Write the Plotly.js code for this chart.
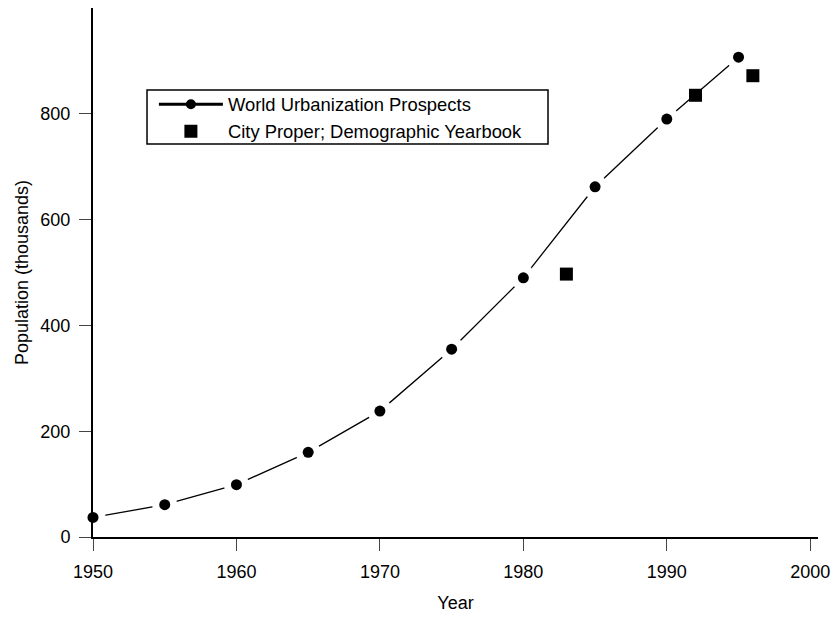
<!DOCTYPE html>
<html>
<head>
<meta charset="utf-8">
<script src="https://cdn.plot.ly/plotly-3.0.1.min.js"></script>
<style>html,body{margin:0;padding:0;background:#fff;}#chart{width:836px;height:618px;}</style>
</head>
<body>
<div id="chart"></div>
<script>
// World Urbanization Prospects estimates (thousands)
const wupYears = [1950, 1955, 1960, 1965, 1970, 1975, 1980, 1985, 1990, 1995];
const wupValues = [37, 61, 99, 160, 238, 355, 490, 662, 790, 907];
// City proper, Demographic Yearbook (thousands)
const dybYears = [1983, 1992, 1996];
const dybValues = [497, 835, 872];
const xTicks = [1950, 1960, 1970, 1980, 1990, 2000];
const yTicks = [0, 200, 400, 600, 800];

const FONT = "Liberation Sans, Arial, Helvetica, sans-serif";

const traces = [
  { // connecting line
    x: wupYears, y: wupValues, mode: 'lines', type: 'scatter',
    line: {color: '#000', width: 1.3}, showlegend: false, hoverinfo: 'skip'
  },
  { // white halo to create gaps around points
    x: wupYears, y: wupValues, mode: 'markers', type: 'scatter',
    marker: {color: '#fff', size: 25, line: {width: 0}}, showlegend: false, hoverinfo: 'skip',
    cliponaxis: false
  },
  { // points
    x: wupYears, y: wupValues, mode: 'markers', type: 'scatter',
    marker: {color: '#000', size: 11, symbol: 'circle'}, showlegend: false,
    cliponaxis: false
  },
  { // legend entry for WUP
    x: [null], y: [null], mode: 'lines+markers', type: 'scatter',
    name: 'World Urbanization Prospects',
    line: {color: '#000', width: 3}, marker: {color: '#000', size: 10}
  },
  {
    x: dybYears, y: dybValues, mode: 'markers', type: 'scatter',
    name: 'City Proper; Demographic Yearbook',
    marker: {color: '#000', size: 13, symbol: 'square'},
    cliponaxis: false
  }
];

const layout = {
  width: 836, height: 618,
  paper_bgcolor: '#fff', plot_bgcolor: '#fff',
  margin: {l: 93, r: 18, t: 8, b: 81},
  font: {family: FONT, size: 18, color: '#000'},
  showlegend: true,
  legend: {
    x: 0.084, y: 0.853, xanchor: 'left', yanchor: 'top',
    bgcolor: 'rgba(0,0,0,0)', borderwidth: 0,
    font: {family: FONT, size: 18.4, color: '#000'},
    itemwidth: 64, tracegroupgap: 0
  },
  shapes: [{
    type: 'rect', xref: 'paper', yref: 'paper',
    x0: 0.0745, x1: 0.6276, y0: 0.743, y1: 0.845,
    line: {color: '#000', width: 1.5}, fillcolor: 'rgba(0,0,0,0)', layer: 'above'
  }],
  xaxis: {
    range: [1950, 2000.54], tickvals: xTicks, ticktext: xTicks.map(String),
    showgrid: false, zeroline: false, showline: true, linecolor: '#000', linewidth: 2,
    ticks: 'outside', ticklen: 12, tickwidth: 1, tickcolor: '#444',
    ticklabelstandoff: 5,
    tickfont: {family: FONT, size: 18, color: '#000'},
    title: {text: 'Year', font: {family: FONT, size: 18, color: '#000'}, standoff: 16}
  },
  yaxis: {
    range: [0, 1000], tickvals: yTicks, ticktext: yTicks.map(String),
    showgrid: false, zeroline: false, showline: true, linecolor: '#000', linewidth: 2,
    ticks: 'outside', ticklen: 12, tickwidth: 1, tickcolor: '#444',
    ticklabelstandoff: 5,
    tickfont: {family: FONT, size: 18, color: '#000'},
    title: {text: 'Population (thousands)', font: {family: FONT, size: 18, color: '#000'}, standoff: 7}
  }
};

Plotly.newPlot('chart', traces, layout, {displayModeBar: false, staticPlot: true});
</script>
</body>
</html>
